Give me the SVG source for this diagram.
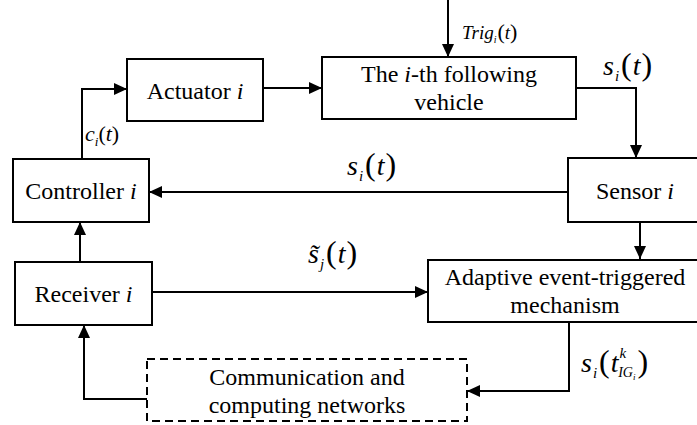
<svg xmlns="http://www.w3.org/2000/svg" width="697" height="425" viewBox="0 0 697 425">
<style>
.box{fill:#fff;stroke:#000;stroke-width:2}
.dash{fill:#fff;stroke:#000;stroke-width:2;stroke-dasharray:8 5}
text{font-family:'Liberation Serif','Times New Roman',serif;fill:#000}
.lbl{font-size:24px;text-anchor:middle}
.it{font-style:italic}
.c{fill:none;stroke:#000;stroke-width:2}
</style>
<defs>
<marker id="ah" markerUnits="userSpaceOnUse" markerWidth="13" markerHeight="12" refX="13" refY="6" orient="auto">
<path d="M0,0 L13,6 L0,12 z" fill="#000"/>
</marker>
</defs>
<g id="connectors">
<path class="c" d="M448,0 V57" marker-end="url(#ah)"/>
<path class="c" d="M263,88 H322" marker-end="url(#ah)"/>
<path class="c" d="M82,159 V89 H127" marker-end="url(#ah)"/>
<path class="c" d="M576,88 H636 V158" marker-end="url(#ah)"/>
<path class="c" d="M568,192 H149" marker-end="url(#ah)"/>
<path class="c" d="M80,262 V222" marker-end="url(#ah)"/>
<path class="c" d="M152,292 H428" marker-end="url(#ah)"/>
<path class="c" d="M640,222 V259" marker-end="url(#ah)"/>
<path class="c" d="M569,322 V391 H467" marker-end="url(#ah)"/>
<path class="c" d="M147,399 H84 V325" marker-end="url(#ah)"/>
</g>
<g id="actuator">
<rect class="box" x="127" y="59" width="136" height="62"/>
<text class="lbl" x="195" y="99">Actuator <tspan class="it">i</tspan></text>
</g>
<g id="vehicle">
<rect class="box" x="322" y="57" width="254" height="62"/>
<text class="lbl" x="449" y="82">The <tspan class="it">i</tspan>-th following</text>
<text class="lbl" x="449" y="110">vehicle</text>
</g>
<g id="controller">
<rect class="box" x="13" y="159" width="136" height="63"/>
<text class="lbl" x="81" y="199">Controller <tspan class="it">i</tspan></text>
</g>
<g id="sensor">
<rect class="box" x="568" y="158" width="140" height="64"/>
<text class="lbl" x="635" y="199">Sensor <tspan class="it">i</tspan></text>
</g>
<g id="receiver">
<rect class="box" x="15" y="262" width="137" height="63"/>
<text class="lbl" x="83.5" y="302">Receiver <tspan class="it">i</tspan></text>
</g>
<g id="adaptive">
<rect class="box" x="428" y="260" width="280" height="62"/>
<text class="lbl" x="565" y="285">Adaptive event-triggered</text>
<text class="lbl" x="565" y="313">mechanism</text>
</g>
<g id="network">
<rect class="dash" x="147" y="359" width="320" height="62"/>
<text class="lbl" x="307" y="385">Communication and</text>
<text class="lbl" x="307" y="413">computing networks</text>
</g>
<g id="labels">
<text x="462" y="39" font-size="19"><tspan font-style="italic">Trig</tspan><tspan font-style="italic" font-size="10" dy="4">i</tspan><tspan font-size="22" dy="-4" dx="1">(</tspan><tspan font-style="italic">t</tspan><tspan font-size="22">)</tspan></text>
<text x="85" y="141" font-size="22"><tspan font-style="italic">c</tspan><tspan font-style="italic" font-size="13" dy="5">i</tspan><tspan dy="-5">(</tspan><tspan font-style="italic">t</tspan>)</text>
<text x="603" y="75" font-size="28"><tspan font-style="italic">s</tspan><tspan font-style="italic" font-size="15" dy="6" dx="1">i</tspan><tspan font-size="32" dy="-6" dx="2">(</tspan><tspan font-style="italic" dx="1">t</tspan><tspan font-size="32" dx="1">)</tspan></text>
<text x="347" y="175" font-size="28"><tspan font-style="italic">s</tspan><tspan font-style="italic" font-size="15" dy="6" dx="1">i</tspan><tspan font-size="32" dy="-6" dx="2">(</tspan><tspan font-style="italic" dx="1">t</tspan><tspan font-size="32" dx="1">)</tspan></text>
<text x="308" y="263" font-size="28"><tspan font-style="italic">s̃</tspan><tspan font-style="italic" font-size="15" dy="6" dx="1">j</tspan><tspan font-size="32" dy="-6" dx="2">(</tspan><tspan font-style="italic" dx="1">t</tspan><tspan font-size="32" dx="1">)</tspan></text>
<text x="581" y="372" font-size="28"><tspan font-style="italic">s</tspan><tspan font-style="italic" font-size="15" dy="6" dx="1">i</tspan><tspan font-size="32" dy="-6" dx="2">(</tspan><tspan font-style="italic" dx="1">t</tspan><tspan font-style="italic" font-size="15" dy="-14" dx="1">k</tspan><tspan font-style="italic" font-size="14" dy="19" dx="-8">IG</tspan><tspan font-style="italic" font-size="9" dy="3">i</tspan><tspan font-size="32" dy="-8" dx="2">)</tspan></text>
</g>
</svg>
